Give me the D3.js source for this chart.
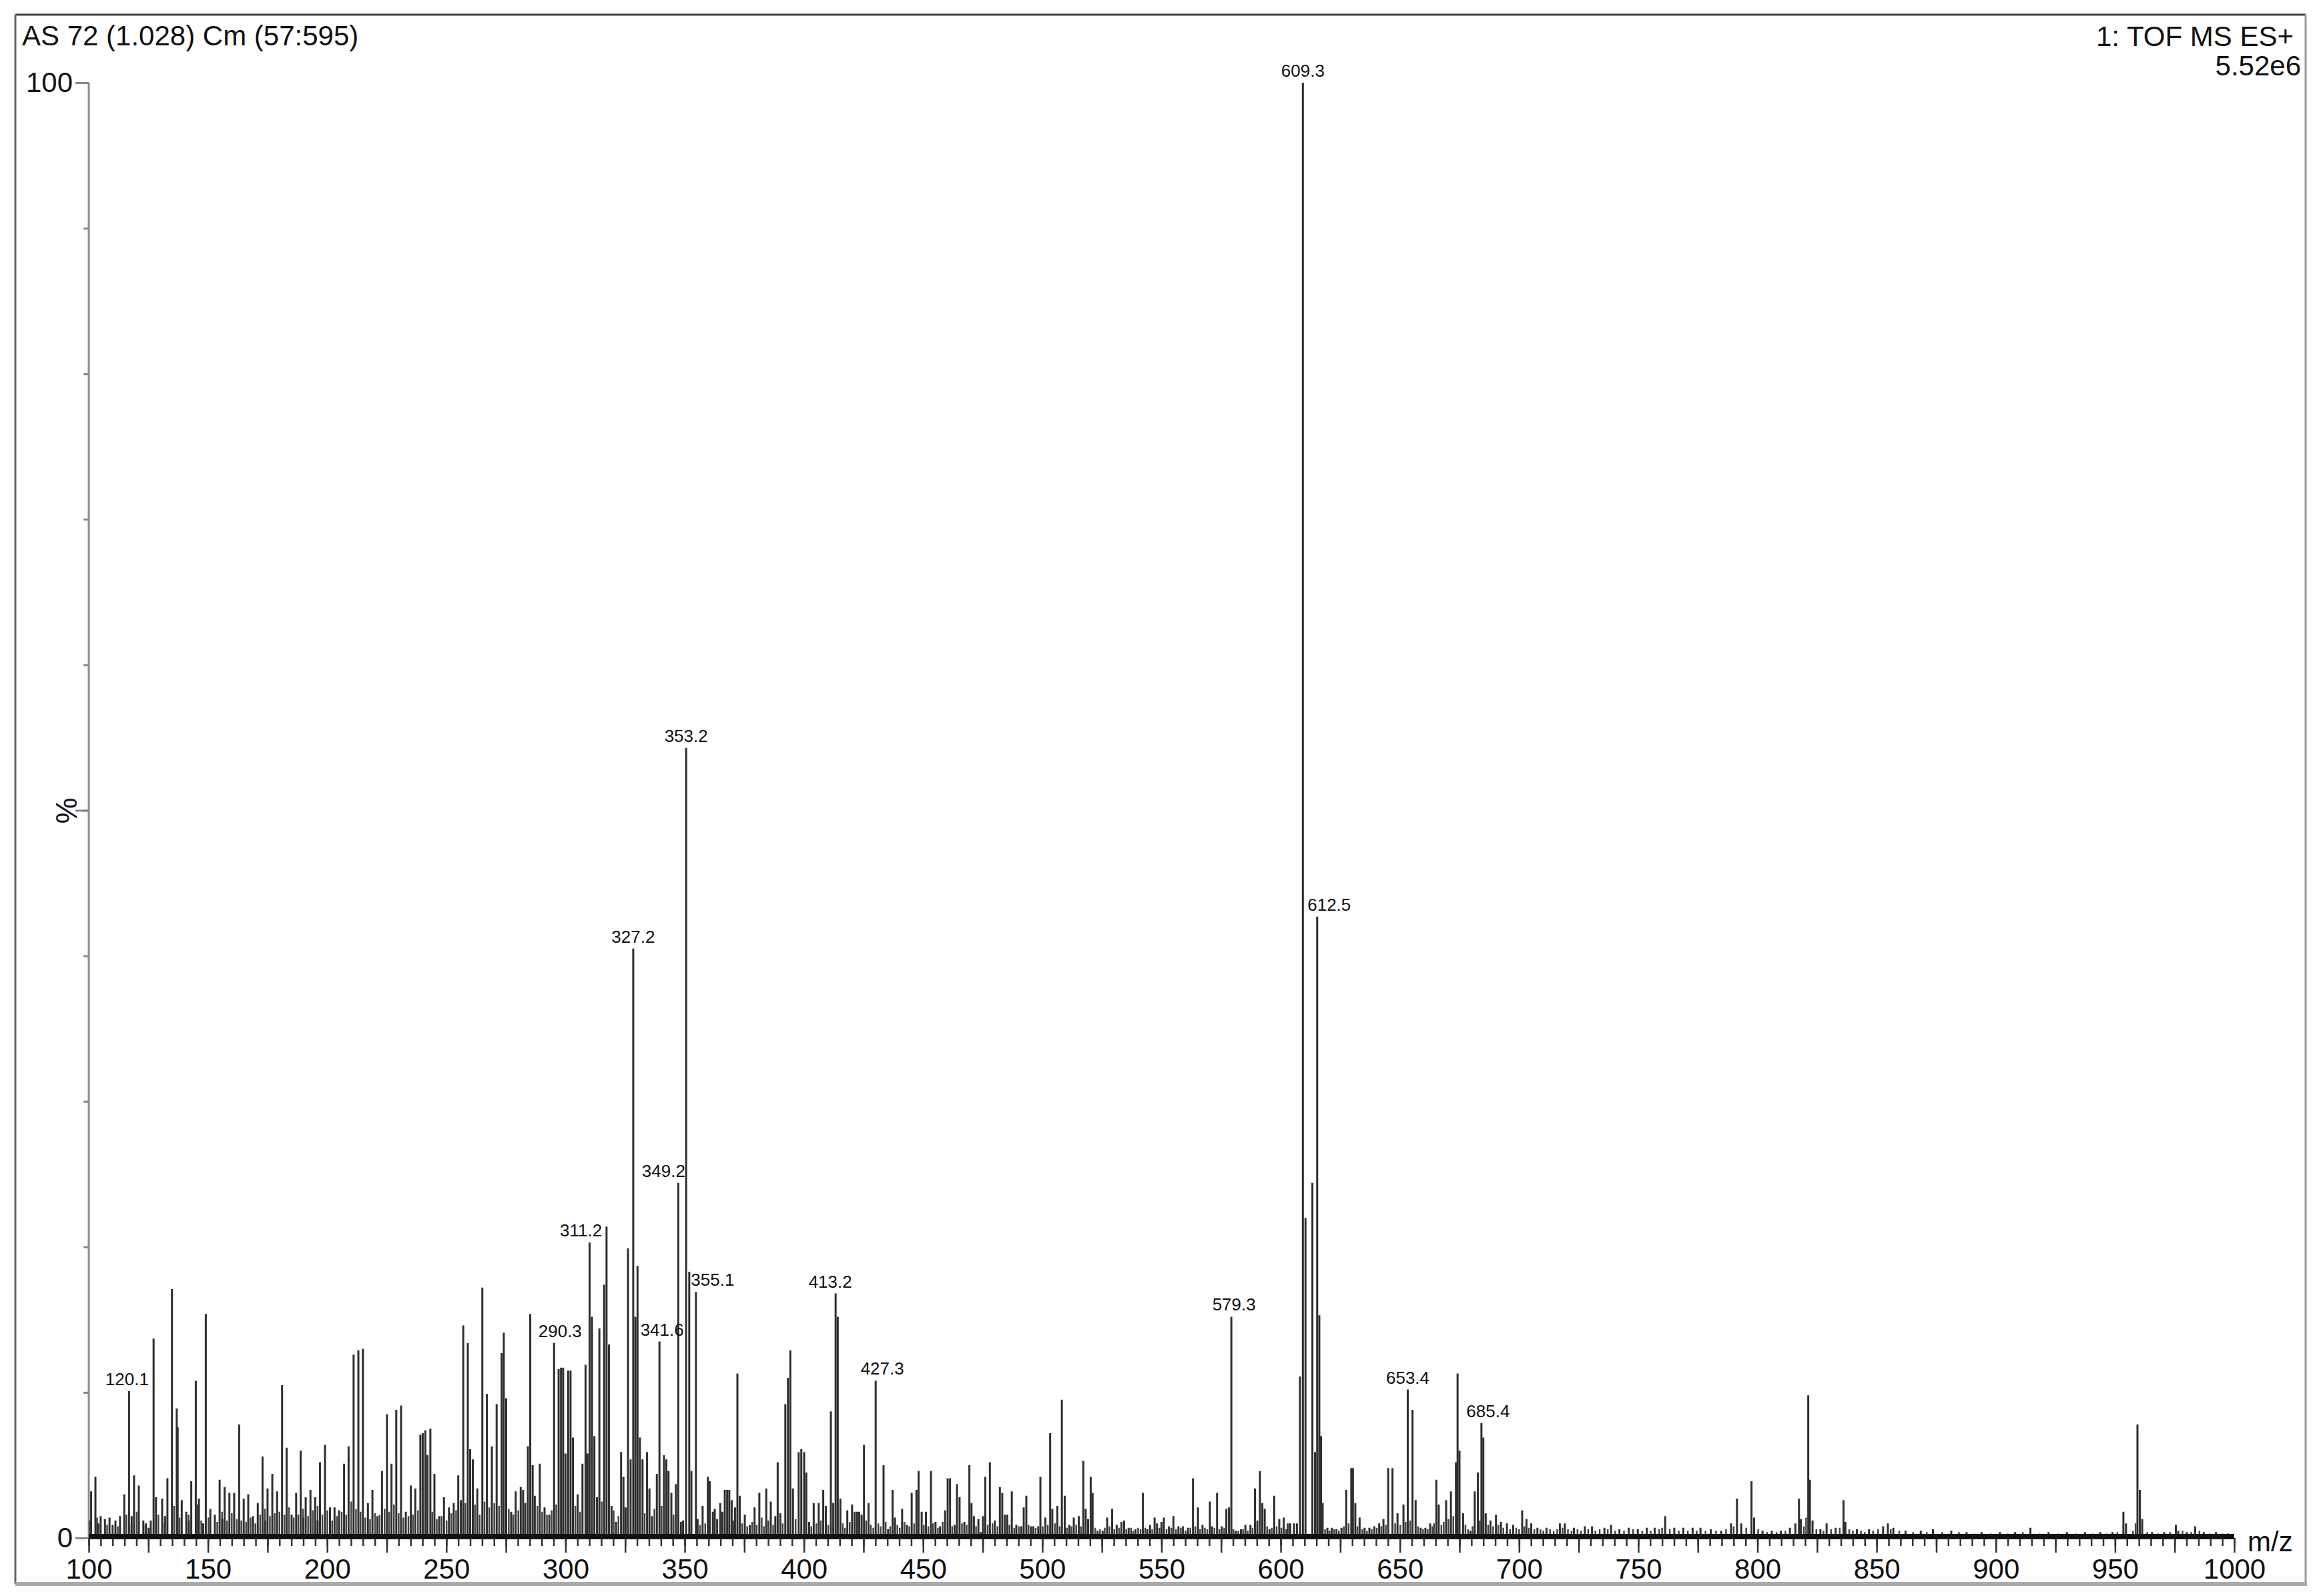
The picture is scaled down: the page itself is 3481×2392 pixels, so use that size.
<!DOCTYPE html>
<html>
<head>
<meta charset="utf-8">
<title>AS 72 TOF MS ES+</title>
<script src="https://d3js.org/d3.v7.min.js"></script>
<style>
  body { margin: 0; background: #fff; }
  svg { display: block; }
  text { font-family: "Liberation Sans", Arial, sans-serif; fill: #111; }
</style>
</head>
<body>
<svg id="spectrum"></svg>
<script>
// header / axis texts
const titleLeft = "AS 72 (1.028) Cm (57:595)";
const titleRight = ["1: TOF MS ES+", "5.52e6"];
const yAxisLabel = "%";
const xAxisLabel = "m/z";
const xTickLabels = d3.range(100, 1001, 50);
const yTickLabels = [0, 100];

// peaks as [m/z, relative intensity %]
const peaks100to200 = [
  [101.0,3.2],[102.8,4.2],[104.0,1.0],[105.0,1.5],[106.8,1.3],[108.7,1.4],[110.0,0.9],[111.2,1.2],
  [113.1,1.5],[114.9,3.0],[116.9,10.1],[118.0,1.5],[119.0,4.3],[121.0,3.6],[122.9,1.2],[124.0,1.0],
  [125.1,0.7],[126.0,1.2],[127.2,13.7],[128.2,2.8],[130.8,2.7],[132.0,1.5],[133.0,4.1],[134.9,17.1],
  [136.9,8.9],[137.3,7.6],[139.0,2.6],[140.9,1.8],[142.0,1.2],[143.0,3.9],[144.9,10.8],[146.2,2.7],
  [148.0,1.0],[149.1,15.4],[151.0,2.0],[152.9,1.6],[154.9,4.0],[156.0,1.3],[157.0,3.5],[159.0,3.1],
  [161.0,3.1],[163.1,7.8],[165.0,2.7],[166.9,3.0],[168.9,1.5],[170.9,2.4],[172.9,5.6],[174.0,1.2],
  [175.0,3.4],[177.0,4.4],[179.0,3.2],[181.1,10.5],[183.0,6.2],[185.1,1.6],[187.0,3.1],[188.9,6.0],
  [190.0,1.4],[191.0,2.8],[193.0,3.3],[195.0,2.8],[196.0,1.2],[197.0,5.2],[199.1,6.4]
];
const peaks200to350 = [
  [201.2,2.1],[203.1,2.1],[205.0,1.9],[207.1,5.1],[209.0,6.3],[211.1,12.6],[213.1,12.9],[215.0,13.0],
  [217.1,2.4],[219.0,3.3],[221.1,1.5],[223.0,4.6],[225.1,8.5],[227.0,5.1],[229.0,8.8],[231.0,9.1],
  [233.0,1.8],[235.1,3.6],[237.0,3.4],[239.1,7.1],[240.1,7.2],[241.2,7.4],[242.1,5.7],[243.3,7.5],
  [245.0,4.4],[247.0,1.5],[249.0,2.8],[251.1,2.1],[253.1,2.4],[255.0,4.3],[256.1,2.6],[257.1,14.6],
  [259.0,13.4],[260.0,6.1],[261.1,5.4],[263.0,3.4],[265.1,17.2],[267.0,9.9],[269.1,6.3],[271.1,9.2],
  [273.2,12.7],[274.1,14.1],[275.1,9.6],[277.2,1.8],[279.1,3.2],[281.2,3.5],[282.2,3.3],[283.1,2.4],
  [284.2,6.3],[285.2,15.4],[286.2,5.0],[287.1,2.9],[289.2,5.1],[291.2,2.1],[293.2,1.6],[295.2,13.4],
  [297.1,11.6],[298.1,11.7],[299.0,11.7],[300.0,5.8],[301.1,11.5],[302.1,11.5],[303.1,6.9],[305.1,3.0],
  [307.1,5.1],[308.4,11.9],[309.2,5.8],[310.1,20.3],[311.1,15.2],[312.1,7.0],[313.2,2.8],[314.2,14.4],
  [316.2,17.4],[317.2,21.4],[318.2,13.3],[319.3,2.2],[321.2,1.1],[323.3,5.9],[324.3,4.2],[325.2,2.1],
  [326.2,19.9],[327.3,5.4],[328.4,40.5],[329.3,15.2],[330.2,18.7],[331.2,6.9],[332.3,5.4],[334.2,5.9],
  [335.2,3.4],[336.3,1.5],[338.3,4.4],[339.4,13.5],[341.3,5.7],[342.3,5.4],[343.2,4.6],[344.4,3.1],
  [346.3,3.7],[347.3,24.4],[348.4,1.1],[349.3,1.2]
];
const peaks350to605 = [
  [350.6,54.3],[351.9,18.3],[352.8,4.6],[354.7,16.9],[355.4,1.3],[357.5,2.2],[359.7,4.2],[360.5,3.9],
  [361.8,1.8],[362.6,2.0],[363.6,1.3],[364.9,2.4],[365.8,1.8],[366.8,3.3],[367.8,3.3],[368.7,3.3],
  [369.7,2.6],[371.1,2.1],[372.1,11.3],[373.1,2.9],[375.2,1.6],[377.3,0.9],[379.3,2.1],[381.3,3.1],
  [384.2,3.4],[386.1,2.5],[388.0,1.5],[389.0,5.2],[390.1,1.7],[392.2,9.2],[393.3,11.0],[394.3,12.9],
  [395.4,3.4],[397.8,5.9],[398.9,6.1],[400.1,5.9],[401.0,4.5],[402.2,1.1],[404.1,2.4],[406.2,2.4],
  [408.1,3.3],[409.2,2.2],[411.3,8.7],[412.3,2.4],[413.3,16.8],[414.2,15.2],[415.3,2.7],[418.2,1.9],
  [420.2,2.3],[421.3,1.8],[422.3,1.8],[423.2,1.8],[424.2,1.6],[425.2,6.4],[427.1,2.4],[430.1,10.8],
  [433.4,5.0],[435.3,0.6],[437.2,3.3],[438.2,1.4],[441.2,2.0],[443.2,0.9],[445.2,3.1],[447.2,3.3],
  [448.1,4.6],[449.4,1.8],[451.2,1.8],[453.3,4.6],[455.2,1.1],[457.1,0.8],[459.2,1.9],[460.3,4.1],
  [461.3,4.1],[463.2,0.9],[464.2,3.7],[465.3,2.8],[467.3,1.1],[469.4,5.0],[470.3,2.4],[471.3,1.5],
  [473.2,1.3],[474.2,0.4],[475.1,1.5],[476.1,4.2],[478.0,5.2],[480.1,1.2],[482.2,3.5],[483.2,3.1],
  [484.3,1.6],[485.3,1.6],[487.2,3.2],[489.1,0.9],[491.2,0.8],[492.2,2.1],[493.3,2.9],[495.2,0.8],
  [496.2,0.8],[498.3,0.8],[499.2,4.2],[501.3,1.4],[503.3,7.2],[504.2,2.0],[506.3,2.2],[508.2,9.5],
  [509.4,2.9],[511.3,0.9],[513.2,1.4],[515.3,1.5],[517.2,5.3],[518.2,2.0],[519.2,1.3],[520.3,4.2],
  [521.1,3.1],[523.2,0.5],[525.3,0.5],[527.2,1.4],[529.3,2.0],[531.2,0.9],[533.2,1.1],[534.3,1.2],
  [536.2,0.7],[539.1,0.6],[542.2,3.1],[544.1,0.6],[545.2,0.9],[547.1,1.4],[548.1,1.0],[550.0,1.1],
  [551.0,1.4],[553.1,0.8],[555.0,1.5],[557.1,0.8],[559.0,0.8],[561.1,0.7],[563.2,4.1],[565.3,2.1],
  [567.2,0.9],[570.3,2.5],[571.2,0.8],[573.3,3.1],[575.3,0.8],[577.2,2.0],[578.3,2.1],[579.3,15.2],
  [581.2,0.5],[583.3,0.6],[585.2,0.9],[587.3,0.9],[589.2,3.4],[590.2,1.2],[591.3,4.6],[592.3,2.4],
  [593.3,2.0],[595.3,0.6],[597.3,2.9],[599.4,1.3],[601.3,1.4],[603.0,1.0]
];
const peaks605to1000 = [
  [604.0,1.0],[605.6,1.0],[606.8,1.0],[608.1,11.1],[609.3,100],[610.4,22.0],[613.3,24.4],[614.4,5.9],
  [615.3,42.7],[616.2,15.3],[616.9,7.0],[617.6,2.4],[619.6,0.7],[621.4,0.7],[623.4,0.6],[625.5,0.7],
  [627.5,3.3],[629.6,4.8],[630.3,4.8],[631.3,2.4],[633.1,1.4],[635.2,0.7],[637.2,0.7],[639.3,0.8],
  [641.3,1.0],[643.1,1.3],[645.1,4.8],[646.9,4.8],[649.0,1.7],[651.5,2.3],[653.3,10.2],[655.3,8.8],
  [656.6,2.6],[658.7,0.7],[660.7,0.7],[662.7,1.0],[665.3,4.0],[666.3,2.3],[669.4,2.6],[671.4,3.2],
  [673.5,5.2],[674.2,11.3],[675.0,6.0],[676.5,1.7],[679.6,0.5],[681.4,3.2],[682.7,4.5],[684.2,7.9],
  [685.0,6.9],[686.0,1.7],[688.0,1.2],[690.3,1.6],[692.4,1.1],[694.9,1.0],[697.5,0.9],[701.3,1.9],
  [703.1,1.3],[705.1,1.0],[707.7,0.7],[711.5,0.7],[717.1,1.0],[719.2,1.0],[723.0,0.7],[727.6,0.8],
  [730.6,0.8],[735.8,0.7],[738.6,0.9],[742.1,0.6],[746.0,0.7],[749.8,0.6],[753.6,0.7],[756.9,0.7],
  [761.3,1.5],[765.1,0.7],[768.9,0.7],[772.8,0.7],[776.1,0.7],[780.4,0.6],[784.8,0.5],[788.9,1.0],
  [791.4,2.7],[793.2,1.0],[797.5,3.9],[798.6,1.4],[802.1,0.5],[806.0,0.5],[809.8,0.5],[813.6,0.7],
  [815.9,1.0],[817.4,2.7],[818.2,1.3],[821.3,9.8],[822.0,4.0],[823.1,1.2],[826.4,0.6],[829.0,1.0],
  [832.8,0.7],[836.1,2.6],[836.9,1.1],[841.7,0.6],[846.8,0.6],[852.7,0.8],[854.7,1.0],[857.0,0.7],
  [862.1,0.5],[868.5,0.5],[873.6,0.6],[881.3,0.5],[887.7,0.4],[894.0,0.4],[901.7,0.4],[908.1,0.4],
  [914.5,0.7],[922.1,0.4],[929.8,0.4],[937.4,0.4],[943.8,0.4],[948.9,0.4],[953.5,1.8],[954.6,1.0],
  [959.4,7.8],[960.4,3.3],[961.4,1.3],[965.5,0.4],[970.6,0.4],[975.5,0.9],[976.5,0.5],[980.1,0.4],
  [983.6,0.8],[987.2,0.4],[992.3,0.4],[997.4,0.3]
];

// low "grass" between the listed peaks
const grass100to350 = [
  [100.4,1.2],[103.5,1.4],[107.7,0.9],[112.2,0.8],[115.8,1.6],[117.9,0.9],[120.1,1.8],[123.8,0.9],
  [129.2,1.6],[131.8,1.1],[135.8,2.2],[138.1,1.4],[141.9,1.6],[145.6,2.3],[147.2,1.2],[150.2,1.4],
  [153.9,1.1],[155.9,1.8],[158.0,1.2],[160.0,1.7],[162.1,1.3],[164.0,1.2],[166.0,1.1],[167.9,1.4],
  [169.9,1.0],[171.9,1.6],[173.9,2.0],[176.0,1.5],[178.0,1.7],[180.0,1.8],[182.1,1.6],[184.0,2.1],
  [186.0,1.4],[187.9,1.6],[189.9,2.0],[192.0,1.5],[194.0,1.9],[196.0,2.2],[198.0,1.6],[200.1,1.9],
  [202.1,1.2],[204.1,1.5],[206.1,1.8],[208.0,1.6],[210.1,2.5],[212.1,2.0],[214.0,1.8],[216.0,1.4],
  [218.0,1.3],[220.1,1.7],[222.0,1.6],[224.1,2.0],[226.0,1.8],[228.0,2.3],[230.0,1.7],[232.0,1.4],
  [234.1,1.5],[236.0,1.6],[238.1,1.9],[244.1,1.8],[246.0,1.3],[248.0,1.5],[250.1,1.2],[252.1,1.7],
  [254.1,1.9],[258.0,2.4],[262.0,2.3],[264.0,1.6],[266.0,2.5],[268.0,2.1],[270.1,2.4],[272.1,2.2],
  [276.2,2.0],[278.1,1.6],[280.2,1.9],[288.2,2.2],[290.2,1.8],[292.2,1.6],[294.2,1.9],[296.1,2.3],
  [304.1,2.2],[306.1,1.8],[315.2,2.5],[320.2,1.9],[322.2,1.5],[333.2,1.7],[337.3,2.0],[340.3,2.2],
  [345.3,1.6]
];
const grass350to605 = [
  [356.4,0.9],[358.6,1.0],[370.4,1.2],[374.1,1.0],[376.2,0.8],[378.3,1.1],[380.2,0.9],[382.3,1.4],
  [383.2,0.8],[385.1,1.2],[387.1,0.9],[391.1,1.0],[396.5,1.3],[403.1,0.8],[405.2,1.0],[407.1,1.2],
  [410.2,0.9],[416.3,1.0],[417.2,0.7],[419.2,1.1],[426.1,1.2],[428.1,0.9],[429.1,0.7],[431.2,1.0],
  [432.2,0.8],[434.3,1.1],[436.2,0.8],[439.2,0.9],[440.2,0.7],[442.2,1.1],[444.2,0.8],[446.2,1.0],
  [450.3,0.9],[452.2,0.8],[454.2,1.0],[456.2,0.7],[458.2,1.1],[462.2,0.8],[466.3,1.0],[468.3,0.9],
  [472.2,0.8],[477.1,0.9],[479.1,1.0],[481.2,0.8],[486.2,0.9],[488.2,0.7],[490.2,0.8],[494.2,0.9],
  [497.2,0.7],[500.2,0.8],[502.3,0.9],[505.3,1.0],[507.3,0.8],[510.3,0.7],[512.2,0.8],[514.2,0.9],
  [516.2,0.8],[522.2,0.7],[524.2,0.6],[526.2,0.7],[528.2,0.8],[530.2,0.6],[532.2,0.7],[535.2,0.6],
  [537.2,0.7],[538.1,0.5],[540.2,0.7],[541.2,0.6],[543.2,0.7],[546.1,0.6],[549.1,0.7],[552.1,0.6],
  [554.1,0.7],[556.1,0.6],[558.1,0.7],[560.1,0.5],[562.1,0.7],[564.2,0.8],[566.2,0.6],[568.2,0.7],
  [569.2,0.6],[572.2,0.7],[574.3,0.6],[576.3,0.7],[580.2,0.6],[582.2,0.5],[584.2,0.6],[586.2,0.5],
  [588.2,0.7],[594.3,0.8],[596.3,0.7],[598.3,0.8],[600.3,0.7],[602.3,0.6]
];
const grass605to1000 = [
  [618.6,0.6],[620.5,0.5],[622.4,0.6],[624.4,0.5],[626.5,0.8],[628.5,1.0],[632.2,0.8],[634.2,0.6],
  [636.2,0.5],[638.2,0.6],[640.3,0.7],[642.2,0.8],[644.1,0.9],[648.0,1.0],[650.2,0.9],[652.4,1.1],
  [654.3,1.2],[657.6,0.8],[659.7,0.6],[661.7,0.6],[663.7,0.8],[664.3,1.0],[667.4,0.9],[668.4,1.1],
  [670.4,1.3],[672.4,1.5],[677.5,0.9],[678.6,0.6],[680.5,0.8],[683.5,1.2],[687.0,0.9],[689.1,0.8],
  [691.3,0.9],[693.4,0.7],[696.2,0.6],[698.8,0.7],[700.0,0.6],[702.2,0.8],[704.1,0.7],[706.4,0.6],
  [709.0,0.6],[710.2,0.5],[713.0,0.6],[714.5,0.5],[716.0,0.6],[718.2,0.7],[720.5,0.6],[722.0,0.5],
  [724.5,0.6],[726.0,0.5],[729.0,0.6],[732.0,0.5],[733.8,0.6],[737.2,0.6],[740.3,0.5],[744.0,0.5],
  [747.8,0.6],[751.7,0.5],[755.2,0.5],[758.8,0.6],[760.0,0.7],[763.2,0.6],[767.0,0.5],[770.8,0.5],
  [774.5,0.5],[778.2,0.5],[782.6,0.5],[786.8,0.6],[790.0,0.8],[795.3,0.7],[800.3,0.6],[804.0,0.4],
  [808.0,0.4],[811.7,0.5],[819.5,0.8],[820.4,1.4],[824.7,0.6],[827.7,0.5],[830.9,0.6],[834.5,0.7],
  [838.5,0.6],[840.0,0.5],[843.4,0.5],[845.0,0.4],[848.5,0.5],[850.6,0.6],[855.9,0.6],[859.5,0.5],
  [865.3,0.4],[871.0,0.4],[877.5,0.4],[884.5,0.4],[891.0,0.3],[897.9,0.3],[905.0,0.3],[911.3,0.4],
  [918.3,0.3],[926.0,0.3],[933.6,0.3],[940.6,0.3],[946.4,0.3],[951.0,0.4],[957.5,0.5],[958.6,1.0],
  [963.5,0.4],[968.0,0.3],[973.0,0.4],[978.3,0.5],[982.0,0.4],[985.4,0.5],[989.7,0.3],[995.0,0.3]
];

// annotated peaks: printed label and the m/z where the line sits in the picture
const labelText = ["120.1","290.3","311.2","327.2","341.6","349.2","353.2","355.1",
                   "413.2","427.3","579.3","609.3","612.5","653.4","685.4"];
const labelMz = [116.9,295.2,310.1,328.4,339.4,347.3,350.6,354.7,
                 413.3,430.1,579.3,609.3,615.3,653.3,684.2];

const W = 3481, H = 2392;
const svg = d3.select('#spectrum').attr('width', W).attr('height', H);

const x = d3.scaleLinear().domain([100, 1000]).range([133, 3348]);
const y = d3.scaleLinear().domain([0, 100]).range([2305, 124]);

// frame
svg.append('line').attr('x1', 23).attr('x2', 3455).attr('y1', 22).attr('y2', 22)
  .attr('stroke', '#444').attr('stroke-width', 3);
svg.append('line').attr('x1', 23).attr('x2', 23).attr('y1', 22).attr('y2', 2374)
  .attr('stroke', '#666').attr('stroke-width', 3);
svg.append('line').attr('x1', 3455).attr('x2', 3455).attr('y1', 22).attr('y2', 2374)
  .attr('stroke', '#999').attr('stroke-width', 3);
svg.append('line').attr('x1', 23).attr('x2', 3457).attr('y1', 2374).attr('y2', 2374)
  .attr('stroke', '#aaa').attr('stroke-width', 6);

// header texts
svg.append('text').attr('x', 33).attr('y', 68).attr('font-size', 42).text(titleLeft);
svg.append('text').attr('x', 3437).attr('y', 69).attr('font-size', 42)
  .attr('text-anchor', 'end').text(titleRight[0]);
svg.append('text').attr('x', 3448).attr('y', 113).attr('font-size', 42)
  .attr('text-anchor', 'end').text(titleRight[1]);

// y axis
const yMinor = d3.axisLeft(y).tickValues(d3.range(0, 101, 10)).tickSize(8).tickFormat('');
const yMajor = d3.axisLeft(y).tickValues([0, 50, 100]).tickSize(20).tickPadding(4)
  .tickFormat(d => yTickLabels.includes(d) ? d : '');
[yMinor, yMajor].forEach(ax => {
  const g = svg.append('g').attr('transform', 'translate(133,0)').call(ax);
  g.select('.domain').remove();
  g.selectAll('.tick line').attr('stroke', '#888').attr('stroke-width', 3);
  g.selectAll('.tick text').attr('font-size', 42).attr('fill', '#111')
    .attr('font-family', '"Liberation Sans", Arial, sans-serif');
});
svg.append('line').attr('x1', 133).attr('x2', 133).attr('y1', y(100)).attr('y2', y(0))
  .attr('stroke', '#8a8a8a').attr('stroke-width', 3);
svg.append('text').attr('font-size', 44)
  .attr('transform', 'translate(100,1215) rotate(-90)')
  .attr('text-anchor', 'middle').attr('dy', '0.35em').text(yAxisLabel);

// x axis ticks
const xMinor = d3.axisBottom(x).tickValues(d3.range(100, 1001, 5)).tickSize(12).tickFormat('');
const xMajor = d3.axisBottom(x).tickValues(d3.range(100, 1001, 25)).tickSize(22).tickPadding(9)
  .tickFormat(d => xTickLabels.includes(d) ? d : '');
[xMinor, xMajor].forEach(ax => {
  const g = svg.append('g').attr('transform', `translate(0,${y(0)})`).call(ax);
  g.select('.domain').remove();
  g.selectAll('.tick line').attr('stroke', '#333').attr('stroke-width', 2.5);
  g.selectAll('.tick text').attr('font-size', 42).attr('fill', '#111')
    .attr('font-family', '"Liberation Sans", Arial, sans-serif');
});
svg.append('text').attr('x', 3368).attr('y', 2325).attr('font-size', 42).text(xAxisLabel);

// peaks
const allPeaks = [].concat(peaks100to200, peaks200to350, peaks350to605, peaks605to1000);
const grass = [].concat(grass100to350, grass350to605, grass605to1000);
svg.append('g').selectAll('line').data(grass).join('line')
  .attr('x1', d => x(d[0])).attr('x2', d => x(d[0]))
  .attr('y1', y(0)).attr('y2', d => y(d[1]))
  .attr('stroke', '#444').attr('stroke-width', 2.5);
svg.append('g').selectAll('line').data(allPeaks).join('line')
  .attr('x1', d => x(d[0])).attr('x2', d => x(d[0]))
  .attr('y1', y(0)).attr('y2', d => y(d[1]))
  .attr('stroke', '#2e2e2e').attr('stroke-width', 3);

// baseline (dense noise band)
svg.append('line').attr('x1', x(100)).attr('x2', x(1000)).attr('y1', y(0) - 2).attr('y2', y(0) - 2)
  .attr('stroke', '#111').attr('stroke-width', 8);

// peak labels, nudged sideways the way the instrument software placed them
const nudge = { "120.1": -3, "290.3": 9, "311.2": -13, "341.6": 4, "349.2": -22, "355.1": 25,
                "413.2": -8, "427.3": 10, "579.3": 4, "612.5": 18, "685.4": 10 };
const peakHeight = mz => allPeaks.find(p => p[0] === mz)[1];
svg.append('g').selectAll('text').data(labelText).join('text')
  .attr('x', (d, i) => x(labelMz[i]) + (nudge[d] || 0))
  .attr('y', (d, i) => y(peakHeight(labelMz[i])) - 9)
  .attr('text-anchor', 'middle').attr('font-size', 26)
  .text(d => d);
</script>
</body>
</html>
